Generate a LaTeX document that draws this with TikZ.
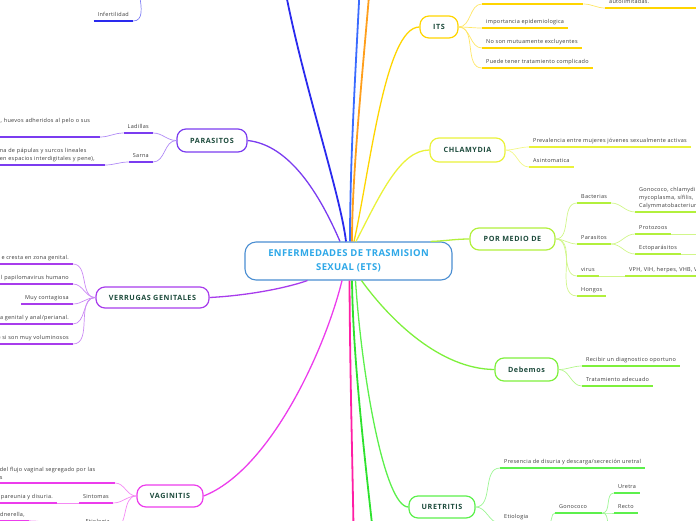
\documentclass[tikz,border=0pt]{standalone}
\usepackage{fontspec}
\setmainfont{Open Sans}
\newfontfamily\leaffont[LetterSpace=5]{Open Sans}
\newfontfamily\topicfont[LetterSpace=8]{Open Sans}
\newfontfamily\rootfont[LetterSpace=4]{Open Sans}
\usetikzlibrary{positioning,calc}

\definecolor{rootfg}{HTML}{2EA8E8}
\definecolor{rootln}{HTML}{4A8ED2}
\definecolor{topicfg}{HTML}{1D4B3C}
\definecolor{leaffg}{HTML}{3A3A3A}
\definecolor{dkblue}{HTML}{2A2AEE}
\definecolor{brblue}{HTML}{3A6BFF}
\definecolor{brorange}{HTML}{FF9F1C}
\definecolor{itsgold}{HTML}{FFD500}
\definecolor{chlyel}{HTML}{EAF23A}
\definecolor{pmdlime}{HTML}{B2F03C}
\definecolor{debgreen}{HTML}{7EF03C}
\definecolor{uregreen}{HTML}{5CF04C}
\definecolor{brgreen}{HTML}{2EE22E}
\definecolor{brpink}{HTML}{FF1FA5}
\definecolor{vagmag}{HTML}{EC3CEC}
\definecolor{vervio}{HTML}{A83CEC}
\definecolor{parpur}{HTML}{7B3CF0}

\begin{document}
\begin{tikzpicture}[
  x=1pt, y=-1pt,
  root/.style={draw=rootln, line width=1.1pt, fill=white, rounded corners=11pt,
               minimum width=207pt, minimum height=38pt, align=center,
               font=\rootfont\fontsize{9.5}{13.5}\selectfont\bfseries, text=rootfg},
  topic/.style={draw=#1, line width=1.2pt, fill=white, rounded corners=9pt,
                minimum height=22pt, inner sep=0pt,
                font=\topicfont\fontsize{7.2}{9}\selectfont\bfseries, text=topicfg},
  leafm/.style={font=\leaffont\fontsize{5.5}{8}\selectfont, text=leaffg, align=left,
               inner xsep=4pt, inner ysep=3pt,
               append after command={(\tikzlastnode.south west)
                 edge[draw=#1, line width=1.8pt] (\tikzlastnode.south east)}},
  leaf/.style={leafm=#1, text height=4pt, text depth=1.6pt},
  branch/.style={draw=#1, line width=1.3pt},
  twig/.style={draw=#1!60, line width=0.7pt},
]
\useasboundingbox (0,0) rectangle (696,520);
\clip (0,0) rectangle (696,520);

% central topic
\node[root] (root) at (348.5,261) {ENFERMEDADES DE TRASMISION\\SEXUAL (ETS)};

% main topics
\node[topic=itsgold,  minimum width=38pt]  (its) at (439,27)      {ITS};
\node[topic=chlyel,   minimum width=75pt, minimum height=24pt]  (chl) at (467.5,150) {CHLAMYDIA};
\node[topic=pmdlime,  minimum width=85pt]  (pmd) at (512.5,239)   {POR MEDIO DE};
\node[topic=debgreen, minimum width=63pt, minimum height=23pt]  (deb) at (526.5,369.5) {Debemos};
\node[topic=uregreen, minimum width=66pt]  (ure) at (442,507)     {URETRITIS};
\node[topic=parpur,   minimum width=70pt, minimum height=23pt]  (par) at (212,140.5) {PARASITOS};
\node[topic=vervio,   minimum width=113pt, minimum height=21pt] (ver) at (152.5,297.5) {VERRUGAS GENITALES};
\node[topic=vagmag,   minimum width=66pt]  (vag) at (170,496)     {VAGINITIS};

% topics lying outside the frame
\coordinate (upA) at (280,-40);
\coordinate (upB) at (146,-32);
\coordinate (upC) at (361,-40);
\coordinate (upD) at (372,-40);
\coordinate (dnA) at (354,560);
\coordinate (dnB) at (376,560);
\coordinate (pz1) at (705,234);
\coordinate (pz2) at (705,254);
\coordinate (go3) at (613,533);

% --- branches from the central topic ---
\draw[branch=dkblue, line width=1.8pt] ($(root.north)+(-2.5,0)$) .. controls (340,190) and (295,60) .. (upA);
\draw[branch=brblue, line width=1.8pt] ($(root.north)+(1.5,0)$) .. controls (350,150) and (357,50) .. (upC);
\draw[branch=brorange, line width=1.8pt] ($(root.north)+(3.5,0)$) .. controls (352,170) and (364,60) .. (upD);
\draw[branch=itsgold] ($(root.north)+(5.5,0)$) .. controls (370,170) and (385,27) .. (its.west);
\draw[branch=chlyel] ($(root.north)+(7.5,0)$) .. controls (380,195) and (400,150) .. (chl.west);
\draw[branch=parpur] ($(root.north)+(-8.5,0)$) .. controls (320,195) and (290,145) .. (par.east);
\draw[branch=pmdlime] ($(root.north east)+(-22,0)$) .. controls (445,241) and (455,239) .. (pmd.west);
\draw[branch=vervio] ($(root.south)+(-41,0)$) .. controls (280,290) and (240,296) .. (ver.east);
\draw[branch=vagmag] ($(root.south)+(-6.5,0)$) .. controls (325,350) and (270,470) .. (vag.east);
\draw[branch=brpink, line width=1.8pt] ($(root.south)+(1,0)$) .. controls (350,380) and (353,480) .. (dnA);
\draw[branch=brgreen, line width=1.8pt] ($(root.south)+(3.5,0)$) .. controls (353,360) and (365,460) .. (dnB);
\draw[branch=uregreen] ($(root.south)+(7,0)$) .. controls (362,380) and (385,507) .. (ure.west);
\draw[branch=debgreen] ($(root.south)+(13,0)$) .. controls (390,320) and (440,369) .. (deb.west);

% --- ITS ---
\node[leaf=itsgold, anchor=south west, minimum width=101pt] (i1) at (482,4) {};
\node[leaf=itsgold, anchor=south west, text width=90pt] (i1a) at (605,8) {autolimitadas.};
\node[leaf=itsgold, anchor=south west] (i2) at (482,28) {importancia epidemiologica};
\node[leaf=itsgold, anchor=south west] (i3) at (482,48) {No son mutuamente excluyentes};
\node[leaf=itsgold, anchor=south west] (i4) at (482,68) {Puede tener tratamiento complicado};
\draw[twig=itsgold] (its.east) to[out=0,in=180] (i1.south west);
\draw[twig=itsgold] (its.east) to[out=0,in=180] (i2.south west);
\draw[twig=itsgold] (its.east) to[out=0,in=180] (i3.south west);
\draw[twig=itsgold] (its.east) to[out=0,in=180] (i4.south west);
\draw[twig=itsgold] (i1.south east) to[out=0,in=180] (i1a.south west);

% --- CHLAMYDIA ---
\node[leaf=chlyel, anchor=south west] (c1) at (529,147) {Prevalencia entre mujeres jóvenes sexualmente activas};
\node[leaf=chlyel, anchor=south west] (c2) at (529,167) {Asintomatica};
\draw[twig=chlyel] (chl.east) to[out=0,in=180] (c1.south west);
\draw[twig=chlyel] (chl.east) to[out=0,in=180] (c2.south west);

% --- POR MEDIO DE ---
\node[leaf=pmdlime, anchor=south west] (p1) at (577,203) {Bacterias};
\node[leafm=pmdlime, anchor=south west, text width=80pt] (p1a) at (635,212)
  {Gonococo, chlamydia,\\mycoplasma, sífilis,\\Calymmatobacterium};
\node[leaf=pmdlime, anchor=south west] (p2) at (577,244) {Parasitos};
\node[leaf=pmdlime, anchor=south west] (p2a) at (635,234) {Protozoos};
\node[leaf=pmdlime, anchor=south west] (p2b) at (635,254) {Ectoparásitos};
\node[leaf=pmdlime, anchor=south west] (p3) at (577,276) {virus};
\node[leaf=pmdlime, anchor=south west, text width=90pt] (p3a) at (625,276) {VPH, VIH, herpes, VHB, VHC};
\node[leaf=pmdlime, anchor=south west] (p4) at (577,296) {Hongos};
\draw[twig=pmdlime] (pmd.east) to[out=0,in=180] (p1.south west);
\draw[twig=pmdlime] (pmd.east) to[out=0,in=180] (p2.south west);
\draw[twig=pmdlime] (pmd.east) to[out=0,in=180] (p3.south west);
\draw[twig=pmdlime] (pmd.east) to[out=0,in=180] (p4.south west);
\draw[twig=pmdlime] (p1.south east) to[out=0,in=180] (p1a.south west);
\draw[twig=pmdlime] (p2.south east) to[out=0,in=180] (p2a.south west);
\draw[twig=pmdlime] (p2.south east) to[out=0,in=180] (p2b.south west);
\draw[twig=pmdlime] (p2a.south east) -- (pz1);
\draw[twig=pmdlime] (p2b.south east) -- (pz2);
\draw[twig=pmdlime] (p3.south east) -- (p3a.south west);

% --- Debemos ---
\node[leaf=debgreen, anchor=south west] (d1) at (582,366) {Recibir un diagnostico oportuno};
\node[leaf=debgreen, anchor=south west] (d2) at (582,386) {Tratamiento adecuado};
\draw[twig=debgreen] (deb.east) to[out=0,in=180] (d1.south west);
\draw[twig=debgreen] (deb.east) to[out=0,in=180] (d2.south west);

% --- URETRITIS ---
\node[leaf=uregreen, anchor=south west] (u1) at (500,468) {Presencia de disuria y descarga/secreción uretral};
\node[leaf=uregreen, anchor=south west, text width=40pt] (u2) at (500,523) {Etiologia};
\node[leaf=uregreen, anchor=south west, text width=39pt] (u3) at (555,513) {Gonococo};
\node[leaf=uregreen, anchor=south west] (u4) at (614,493) {Uretra};
\node[leaf=uregreen, anchor=south west] (u5) at (614,513) {Recto};
\draw[twig=uregreen] (ure.east) to[out=0,in=180] (u1.south west);
\draw[twig=uregreen] (ure.east) to[out=0,in=180] (u2.south west);
\draw[twig=uregreen] (u2.south east) to[out=0,in=180] (u3.south west);
\draw[twig=uregreen] (u3.south east) to[out=0,in=180] (u4.south west);
\draw[twig=uregreen] (u3.south east) to[out=0,in=180] (u5.south west);
\draw[twig=uregreen] (u3.south east) to[out=0,in=180] (go3);

% --- PARASITOS ---
\node[leaf=parpur, anchor=south east] (lad) at (153,133) {Ladillas};
\node[leaf=parpur, anchor=south east] (sar) at (153,162) {Sarna};
\node[leafm=parpur, anchor=south east, text width=98pt] (lad1) at (100,137) {s, huevos adheridos al pelo o sus\\[3pt]\mbox{}};
\node[leafm=parpur, anchor=south east, text width=101pt] (sar1) at (105,165) {na de pápulas y surcos lineales\\en espacios interdigitales y pene),};
\draw[twig=parpur] (par.west) to[out=180,in=0] (lad.south east);
\draw[twig=parpur] (par.west) to[out=180,in=0] (sar.south east);
\draw[twig=parpur] (lad.south west) to[out=180,in=0] (lad1.south east);
\draw[twig=parpur] (sar.south west) to[out=180,in=0] (sar1.south east);

% --- VERRUGAS GENITALES ---
\node[leaf=vervio, anchor=south east] (v1) at (73,264) {e cresta en zona genital.};
\node[leaf=vervio, anchor=south east] (v2) at (73,284) {l papilomavirus humano};
\node[leaf=vervio, anchor=south east] (v3) at (73,304) {Muy contagiosa};
\node[leaf=vervio, anchor=south east] (v4) at (73,324) {a genital y anal/perianal.};
\node[leaf=vervio, anchor=south east] (v5) at (73,344) {e si son muy voluminosos};
\draw[twig=vervio] (ver.west) to[out=180,in=0] (v1.south east);
\draw[twig=vervio] (ver.west) to[out=180,in=0] (v2.south east);
\draw[twig=vervio] (ver.west) to[out=180,in=0] (v3.south east);
\draw[twig=vervio] (ver.west) to[out=180,in=0] (v4.south east);
\draw[twig=vervio] (ver.west) to[out=180,in=0] (v5.south east);

% --- VAGINITIS ---
\node[leafm=vagmag, anchor=south east, text width=111pt] (g1) at (115,483) {del flujo vaginal segregado por las\\s};
\node[leaf=vagmag, anchor=south east] (g2) at (113,503) {Sintomas};
\node[leaf=vagmag, anchor=south east] (g2a) at (57,503) {pareunia y disuria.};
\node[leaf=vagmag, anchor=south east] (g3) at (114,528) {Etiologia};
\node[leaf=vagmag, anchor=base west] (g3a) at (-4,516) {dnerella,};
\draw[twig=vagmag] (vag.west) to[out=180,in=0] (g1.south east);
\draw[twig=vagmag] (vag.west) to[out=180,in=0] (g2.south east);
\draw[twig=vagmag] (vag.west) to[out=180,in=0] (g3.south east);
\draw[twig=vagmag] (g2.south west) -- (g2a.south east);
\draw[twig=vagmag] (g3.south west) to[out=180,in=0] (g3a.south east);

% --- topic above the frame ---
\node[leaf=dkblue, anchor=south east] (inf) at (133,21) {Infertilidad};
\draw[twig=dkblue] (inf.south east) to[out=0,in=180] (upB);

\end{tikzpicture}
\end{document}
